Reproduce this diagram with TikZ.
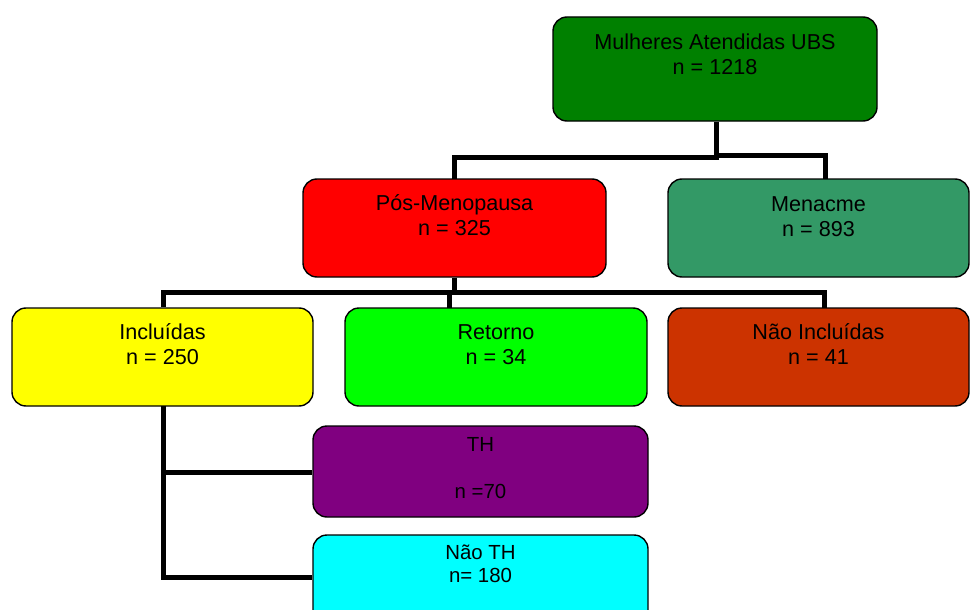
\documentclass[tikz,border=0pt]{standalone}
\usepackage{fontspec}
\setmainfont{Liberation Sans}
\definecolor{cTop}{HTML}{008000}
\definecolor{cPos}{HTML}{FF0000}
\definecolor{cMen}{HTML}{339966}
\definecolor{cInc}{HTML}{FFFF00}
\definecolor{cRet}{HTML}{00FF00}
\definecolor{cNao}{HTML}{CC3300}
\definecolor{cTH}{HTML}{800080}
\definecolor{cNTH}{HTML}{00FFFF}
\tikzset{
  box/.style={draw=black, line width=1.4pt, rounded corners=14pt, rectangle, inner sep=0pt},
  big/.style={anchor=base, inner sep=0pt, font=\fontsize{21.6}{25}\selectfont},
  small/.style={anchor=base, inner sep=0pt, font=\fontsize{20.4}{23}\selectfont},
  conn/.style={draw=black, line width=5pt, line join=miter}
}
\begin{document}
\begin{tikzpicture}[x=1pt, y=-1pt]
\path[use as bounding box, clip] (0,0) rectangle (970,610);
\fill[white] (0,0) rectangle (970,610);
% boxes
\node[box, fill=cTop, minimum width=324pt, minimum height=104pt] (top) at (715,69) {};
\node[box, fill=cPos, minimum width=303pt, minimum height=98pt] (pos) at (454.5,228) {};
\node[box, fill=cMen, minimum width=301pt, minimum height=98pt] (men) at (818.5,228) {};
\node[box, fill=cInc, minimum width=301pt, minimum height=98pt] (inc) at (162.5,357) {};
\node[box, fill=cRet, minimum width=302pt, minimum height=98pt] (ret) at (496,357) {};
\node[box, fill=cNao, minimum width=301pt, minimum height=98pt] (nao) at (818.5,357) {};
\node[box, fill=cTH, minimum width=335pt, minimum height=91pt] (th) at (480.5,471.5) {};
\node[box, fill=cNTH, minimum width=335pt, minimum height=100pt] (nth) at (480.5,585) {};
% texts
\node[big] (topa) at ([yshift=-33pt]top.north) {Mulheres Atendidas UBS};
\node[big] (topb) at ([yshift=-58pt]top.north) {n = 1218};
\node[big] (posa) at ([yshift=-32pt]pos.north) {Pós-Menopausa};
\node[big] (posb) at ([yshift=-57pt]pos.north) {n = 325};
\node[big] (mena) at ([yshift=-33pt]men.north) {Menacme};
\node[big] (menb) at ([yshift=-58pt]men.north) {n = 893};
\node[big] (inca) at ([yshift=-32pt]inc.north) {Incluídas};
\node[big] (incb) at ([yshift=-57pt]inc.north) {n = 250};
\node[big] (reta) at ([yshift=-32pt]ret.north) {Retorno};
\node[big] (retb) at ([yshift=-57pt]ret.north) {n = 34};
\node[big] (naoa) at ([yshift=-32pt]nao.north) {Não Incluídas};
\node[big] (naob) at ([yshift=-57pt]nao.north) {n = 41};
\node[small] (tha) at ([yshift=-26pt]th.north) {TH};
\node[small] (thb) at ([yshift=-73pt]th.north) {n =70};
\node[small] (ntha) at ([yshift=-25pt]nth.north) {Não TH};
\node[small] (nthb) at ([yshift=-48pt]nth.north) {n= 180};
% junction coordinates
\coordinate (j1) at (716,157);
\coordinate (j1r) at (716,155);
\coordinate (j2) at (454,292);
\coordinate (retc) at (449,308);
\coordinate (naoc) at (824,308);
\coordinate (menc) at (825,179);
\coordinate (posc) at (454,179);
\coordinate (incs) at (163,406);
\coordinate (b1) at (163,472);
\coordinate (b2) at (163,577);
% connectors
\draw[conn] (top.south -| j1) -- (j1) -- (j1 -| posc) -- (posc);
\draw[conn] (j1r) -- (j1r -| menc) -- (menc);
\draw[conn] (pos.south -| j2) -- (j2);
\draw[conn] (inc.north -| incs) -- (j2 -| incs) -- (j2 -| naoc) -- (naoc);
\draw[conn] (j2 -| retc) -- (retc);
\draw[conn] (incs) -- (b2) -- (b2 -| nth.west);
\draw[conn] (b1) -- (b1 -| th.west);
% redraw boxes borders over line ends
\end{tikzpicture}
\end{document}
